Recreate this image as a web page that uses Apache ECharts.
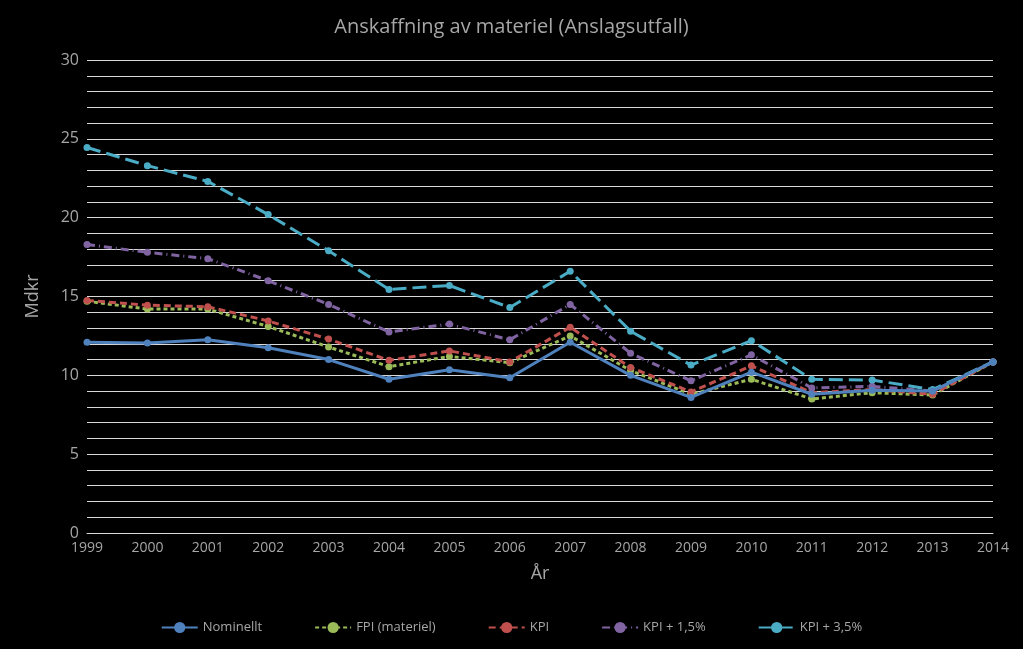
<!DOCTYPE html>
<html><head><meta charset="utf-8">
<script src="https://cdn.jsdelivr.net/npm/echarts@6/dist/echarts.min.js"></script>
<style>html,body{margin:0;background:#000}#c{width:1023px;height:649px}</style>
</head><body><div id="c"></div>
<script>
const years = ['1999','2000','2001','2002','2003','2004','2005','2006','2007','2008','2009','2010','2011','2012','2013','2014'];
const nominellt = [12.1,12.05,12.25,11.75,11.0,9.75,10.35,9.85,12.1,10.0,8.6,10.2,8.8,9.05,9.0,10.85];
const fpi = [14.7,14.2,14.2,13.1,11.8,10.55,11.2,10.8,12.5,10.3,8.8,9.75,8.5,8.9,8.75,10.85];
const kpi = [14.75,14.45,14.35,13.45,12.3,10.95,11.55,10.85,13.05,10.5,8.95,10.6,8.9,9.1,8.8,10.85];
const kpi15 = [18.3,17.8,17.4,16.0,14.5,12.75,13.25,12.25,14.5,11.4,9.65,11.3,9.2,9.3,9.0,10.85];
const kpi35 = [24.45,23.3,22.3,20.2,17.9,15.45,15.7,14.3,16.6,12.8,10.65,12.2,9.75,9.7,9.1,10.85];
const names = ['Nominellt','FPI (materiel)','KPI','KPI + 1,5%','KPI + 3,5%'];
const colors = ['#4f81bd','#9bbb59','#c0504d','#8064a2','#4bacc6'];
const types = ['solid',[4,3],[7,4],[8,4,1,4],[14,6]];
const data = [nominellt,fpi,kpi,kpi15,kpi35];
const txt = '#a6a6a6', font = 'Open Sans';
const chart = echarts.init(document.getElementById('c'));
chart.setOption({
  backgroundColor:'#000',
  textStyle:{fontFamily:font},
  title:{text:'Anskaffning av materiel (Anslagsutfall)',left:'center',top:12,textStyle:{color:txt,fontSize:20,fontWeight:'normal',fontFamily:font}},
  legend:{bottom:10,itemGap:52,itemWidth:36,textStyle:{color:txt,fontSize:13},data:names},
  grid:{left:87,right:30,top:60,bottom:116},
  xAxis:{type:'category',data:years,boundaryGap:false,name:'År',nameLocation:'middle',nameGap:32,
    nameTextStyle:{color:txt,fontSize:18},axisLine:{lineStyle:{color:'#d9d9d9'}},axisTick:{show:false},
    axisLabel:{color:txt,fontSize:14}},
  yAxis:{type:'value',min:0,max:30,interval:1,name:'Mdkr',nameLocation:'middle',nameGap:45,
    nameTextStyle:{color:txt,fontSize:18},
    axisLabel:{color:txt,fontSize:16,formatter:v=>v%5===0?String(v):''},
    splitLine:{lineStyle:{color:'#d9d9d9',width:1}}},
  series:data.map((d,i)=>({name:names[i],type:'line',data:d,symbol:'circle',symbolSize:7,
    itemStyle:{color:colors[i]},lineStyle:{color:colors[i],width:3,type:types[i]},z:2+(i===0?5:0)}))
});
</script></body></html>
